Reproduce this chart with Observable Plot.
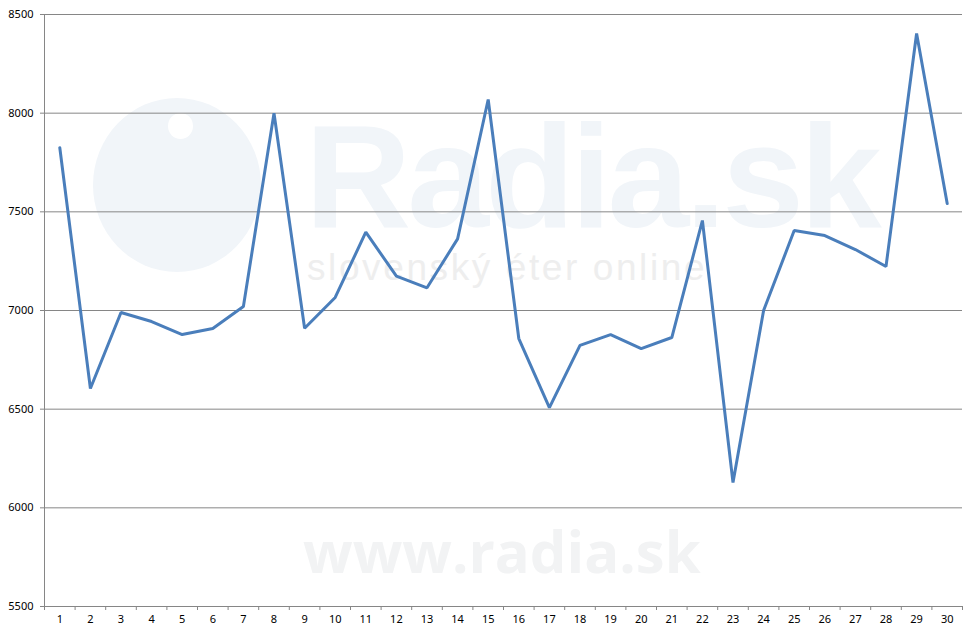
<!DOCTYPE html>
<html>
<head>
<meta charset="utf-8">
<script src="https://cdn.jsdelivr.net/npm/d3@7"></script>
<script src="https://cdn.jsdelivr.net/npm/@observablehq/plot@0.6"></script>
<style>
  html, body { margin: 0; padding: 0; background: #fff; }
  #wrap { position: relative; width: 977px; height: 637px; overflow: hidden; }
  .wm { position: absolute; white-space: nowrap; }
  #chart { position: absolute; left: 0; top: 0; }
</style>
</head>
<body>
<div id="wrap">
  <div class="wm" style="left:93px;top:98px;width:168px;height:174px;border-radius:50%;background:#f1f5f9;"></div>
  <div class="wm" style="left:168px;top:113px;width:25px;height:26px;border-radius:50%;background:#fff;"></div>
  <div class="wm" style="left:305px;top:118px;">
    <div style="font-family:'Liberation Sans',sans-serif;font-size:147px;line-height:0.8;font-weight:700;color:#f1f5f9;letter-spacing:-4px;">Radia.sk</div>
    <div style="margin-left:2px;margin-top:13px;font-family:'Liberation Sans',sans-serif;font-size:37px;line-height:1;color:#eeeeee;letter-spacing:2.6px;">slovenský éter online</div>
  </div>
  <div class="wm" style="left:303px;top:522px;font-family:'Open Sans',sans-serif;font-size:58px;line-height:1;font-weight:700;color:#f2f3f4;">www.radia.sk</div>
  <div id="chart"></div>
</div>
<script>
const days = d3.range(1, 31);
const values = [7825, 6605, 6990, 6944, 6878, 6909, 7020, 8000, 6910, 7066,
                7397, 7174, 7115, 7363, 8069, 6858, 6508, 6823, 6878, 6807,
                6863, 7456, 6128, 7000, 7405, 7380, 7309, 7223, 8404, 7542];
const yTicks = [5500, 6000, 6500, 7000, 7500, 8000, 8500];
const xBoundaries = d3.range(0, 31).map(d => d + 0.5);

const data = days.map((d, i) => ({day: d, value: values[i]}));
const gray = "#868686";

const chart = Plot.plot({
  width: 977,
  height: 637,
  marginLeft: 44,
  marginRight: 15,
  marginTop: 14,
  marginBottom: 31,
  style: {background: "transparent", fontFamily: "'Noto Sans', 'Open Sans', sans-serif", fontSize: "11px", color: "#000"},
  x: {type: "linear", domain: [0.5, 30.5]},
  y: {domain: [5500, 8500]},
  marks: [
    Plot.gridY(yTicks, {stroke: gray, strokeOpacity: 1, strokeWidth: 1}),
    Plot.ruleX([0.5], {stroke: gray, strokeWidth: 1}),
    Plot.axisY(yTicks, {tickSize: 4, tickPadding: 7, stroke: gray, fill: "#000", label: null, fontSize: 11, tickFormat: d => String(d)}),
    Plot.axisX(xBoundaries, {tickSize: 4, stroke: gray, tickFormat: () => "", label: null}),
    Plot.axisX(days, {tickSize: 0, tickPadding: 9, fill: "#000", label: null, fontSize: 11, tickFormat: d => String(d)}),
    Plot.lineY(data, {x: "day", y: "value", stroke: "#4a7ebb", strokeWidth: 3, strokeLinejoin: "miter"})
  ]
});
document.getElementById("chart").appendChild(chart);
</script>
</body>
</html>
